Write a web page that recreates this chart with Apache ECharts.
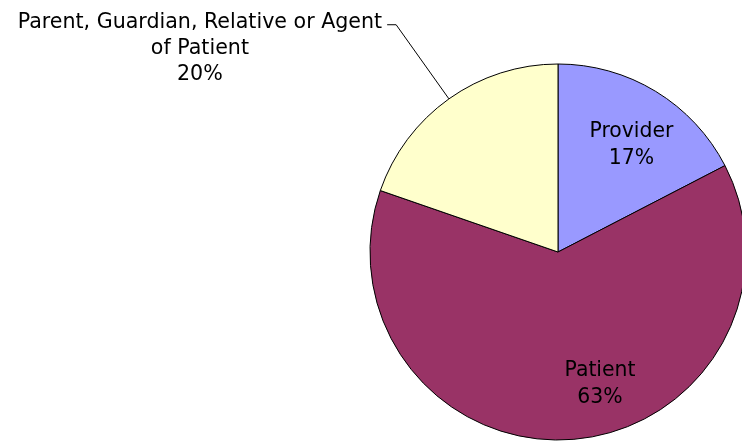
<!DOCTYPE html>
<html>
<head>
<meta charset="utf-8">
<script src="https://cdn.jsdelivr.net/npm/echarts@6/dist/echarts.min.js"></script>
<style>
  html, body { margin: 0; padding: 0; background: #fff; }
  #pie-chart { width: 742px; height: 442px; }
</style>
</head>
<body>
<div id="pie-chart"></div>
<script>
const categories = ['Provider', 'Patient', 'Parent, Guardian, Relative or Agent\nof Patient'];
const shares = [17.4, 62.9, 19.7];
const sliceColors = ['#9999FF', '#993366', '#FFFFCC'];

// nudge the inside labels to where the reference puts them
const labelShift = [[23, -24], [35, 35], [0, 0]];

document.addEventListener('DOMContentLoaded', () => {
    let pieChart = echarts.init(document.getElementById('pie-chart'));

    let data = categories.map((name, i) => {
        let item = {
            name: name,
            value: shares[i],
            itemStyle: { color: sliceColors[i] }
        };
        if (i === 2) {
            item.label = {
                position: 'outside',
                padding: [47, 0, 0, 0],
                formatter: function (p) {
                    return p.name.split('\n').map(s => '{a|' + s + '}').join('\n') + '\n{a|' + Math.round(p.percent) + '%}';
                },
                rich: {
                    a: {
                        align: 'center',
                        fontFamily: 'DejaVu Sans',
                        fontSize: 20.6,
                        lineHeight: 26,
                        color: '#000'
                    }
                }
            };
            item.labelLine = { show: true };
        }
        return item;
    });

    let pieOption = {
        backgroundColor: '#fff',
        animation: false,
        series: [{
            type: 'pie',
            center: [558, 252],
            radius: 188,
            startAngle: 90,
            clockwise: true,
            avoidLabelOverlap: false,
            itemStyle: {
                borderColor: '#000',
                borderWidth: 1
            },
            label: {
                show: true,
                position: 'inside',
                formatter: function (p) {
                    return p.name + '\n' + Math.round(p.percent) + '%';
                },
                fontFamily: 'DejaVu Sans',
                fontSize: 20.4,
                lineHeight: 27,
                color: '#000'
            },
            labelLine: {
                show: false,
                length: 91,
                length2: 9,
                smooth: false,
                lineStyle: { color: '#000', width: 1 }
            },
            labelLayout: function (params) {
                let s = labelShift[params.dataIndex];
                return { dx: s[0], dy: s[1] };
            },
            emphasis: { disabled: true },
            data: data
        }]
    };

    pieChart.setOption(pieOption);
});
</script>
</body>
</html>
